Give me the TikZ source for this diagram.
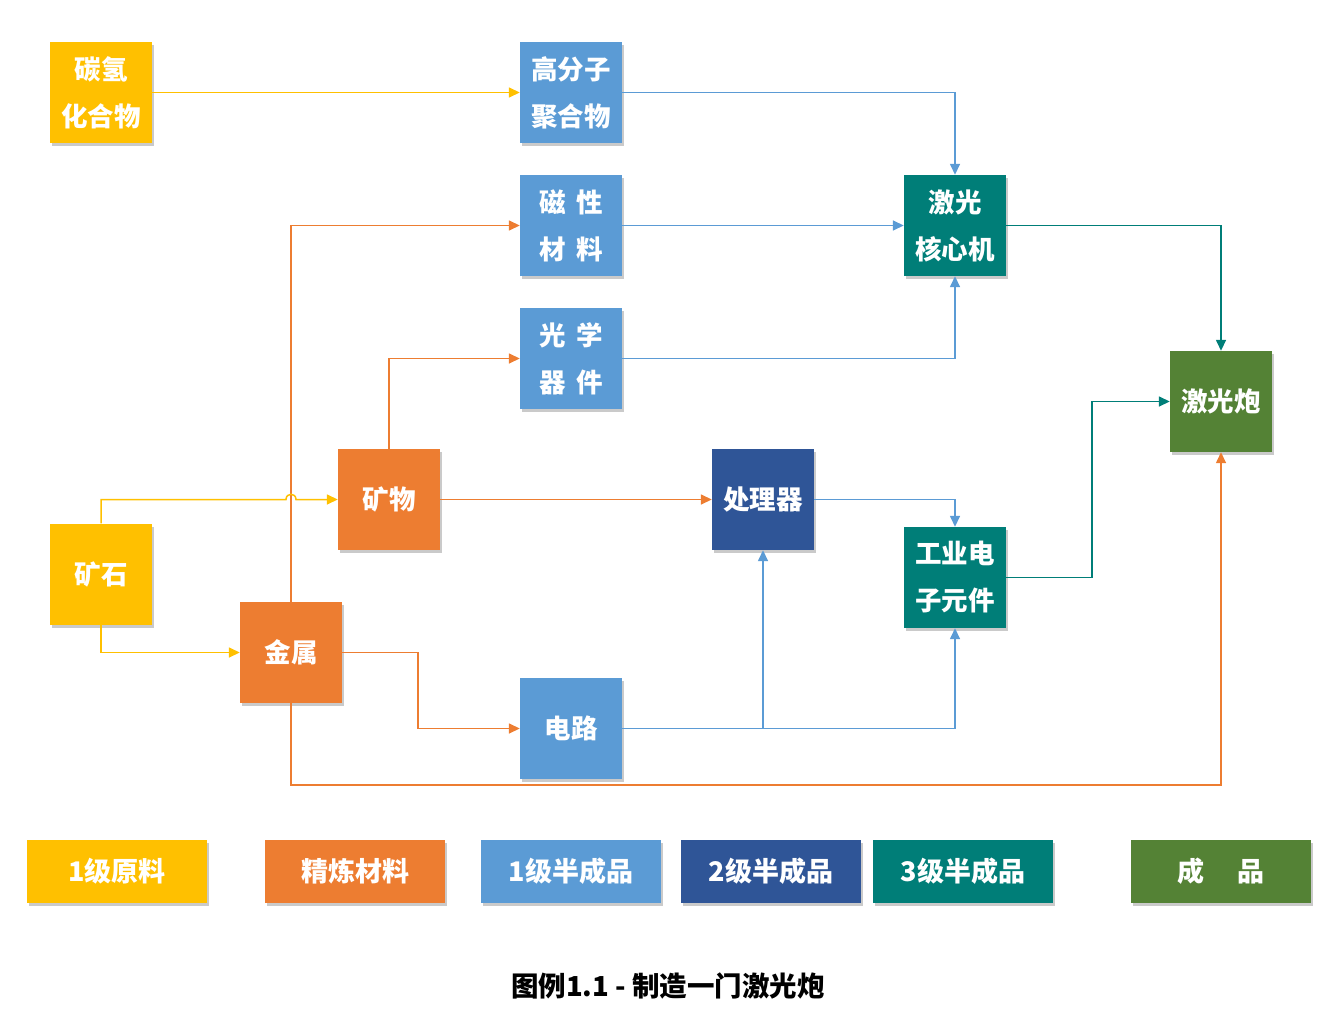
\documentclass[tikz,border=0pt]{standalone}
\usepackage{fontspec}
\setmainfont{Noto Sans CJK SC}
\usetikzlibrary{arrows.meta,shadows}
\definecolor{cyel}{HTML}{FFC000}
\definecolor{corg}{HTML}{ED7D31}
\definecolor{clbl}{HTML}{5B9BD5}
\definecolor{cdbl}{HTML}{2F5597}
\definecolor{ctel}{HTML}{007E78}
\definecolor{cgrn}{HTML}{548235}
\tikzset{
  box/.style={minimum width=102pt,minimum height=101pt,inner sep=0pt,text=white,align=center,
    font=\fontsize{26.5}{47}\selectfont\bfseries,
    drop shadow={shadow xshift=2pt,shadow yshift=-3pt,opacity=0.35,fill=black!60}},
  lgd/.style={minimum width=180pt,minimum height=63pt,inner sep=0pt,text=white,
    font=\fontsize{27}{30}\selectfont\bfseries,
    drop shadow={shadow xshift=2pt,shadow yshift=-3pt,opacity=0.35,fill=black!60}},
  conn/.style={line width=1.5pt,-{Triangle[length=11pt,width=10pt]}},
}
\begin{document}
\begin{tikzpicture}[x=1pt,y=-1pt]
\useasboundingbox (0,0) rectangle (1335,1035);
% nodes
\node[box,fill=cyel] (hc) at (101,92.5) {\raisebox{-2pt}{碳氢}\\\raisebox{-2pt}{化合物}};
\node[box,fill=clbl] (gf) at (571,92.5) {\raisebox{-2pt}{高分子}\\\raisebox{-2pt}{聚合物}};
\node[box,fill=clbl] (cx) at (571,225.5) {\raisebox{-2pt}{磁\hspace{0.4em}性}\\\raisebox{-2pt}{材\hspace{0.4em}料}};
\node[box,fill=clbl] (gx) at (571,358.5) {\raisebox{-2pt}{光\hspace{0.4em}学}\\\raisebox{-2pt}{器\hspace{0.4em}件}};
\node[box,fill=ctel] (jh) at (955,225.5) {\raisebox{-2pt}{激光}\\\raisebox{-2pt}{核心机}};
\node[box,fill=cgrn] (jp) at (1221,401.5) {激光炮};
\node[box,fill=corg] (kw) at (389,499.5) {矿物};
\node[box,fill=cdbl] (cl) at (763,499.5) {处理器};
\node[box,fill=ctel] (gy) at (955,577.5) {\raisebox{-2pt}{工业电}\\\raisebox{-2pt}{子元件}};
\node[box,fill=cyel] (ks) at (101,574) {矿石};
\node[box,fill=corg] (js) at (291,652.5) {金属};
\node[box,fill=clbl] (dl) at (571,728.5) {电路};
% connectors
\draw[conn,cyel] (hc.east) -- (gf.west);
\draw[conn,clbl] (gf.east) -| (jh.north);
\draw[conn,clbl] (cx.east) -- (jh.west);
\draw[conn,clbl] (gx.east) -| (jh.south);
\draw[conn,ctel] (jh.east) -| (jp.north);
\draw[conn,corg] (kw.north) |- (gx.west);
\draw[conn,corg] (js.north) |- (cx.west);
\coordinate (hopa) at (286,499.5);
\coordinate (hopb) at (296,499.5);
\draw[conn,cyel] (ks.north) |- (hopa) .. controls (286,492.5) and (296,492.5) .. (hopb) -- (kw.west);
\draw[conn,cyel] (ks.south) |- (js.west);
\draw[conn,corg] (kw.east) -- (cl.west);
\draw[conn,clbl] (cl.east) -| (gy.north);
\coordinate (jsb) at (418,652.5);
\draw[conn,corg] (js.east) -- (jsb) |- (dl.west);
\coordinate (br) at (763,728.5);
\draw[conn,clbl] (dl.east) -| (gy.south);
\draw[conn,clbl] (br) -- (cl.south);
\coordinate (gyb) at (1092,577.5);
\draw[conn,ctel] (gy.east) -- (gyb) |- (jp.west);
\coordinate (bot) at (291,785);
\draw[conn,corg] (js.south) -- (bot) -| (jp.south);
% legend
\node[lgd,fill=cyel] (l1) at (117,871.5) {1级原料};
\node[lgd,fill=corg] (l2) at (355,871.5) {精炼材料};
\node[lgd,fill=clbl] (l3) at (571,871.5) {1级半成品};
\node[lgd,fill=cdbl] (l4) at (771,871.5) {2级半成品};
\node[lgd,fill=ctel] (l5) at (963,871.5) {3级半成品};
\node[lgd,fill=cgrn] (l6) at (1221,871.5) {成\hspace{1.25em}品};
% caption
\node[font=\fontsize{27.5}{30}\selectfont\bfseries,text=black] (cap) at (668,986) {图例1.1 - 制造一门激光炮};
\end{tikzpicture}
\end{document}
